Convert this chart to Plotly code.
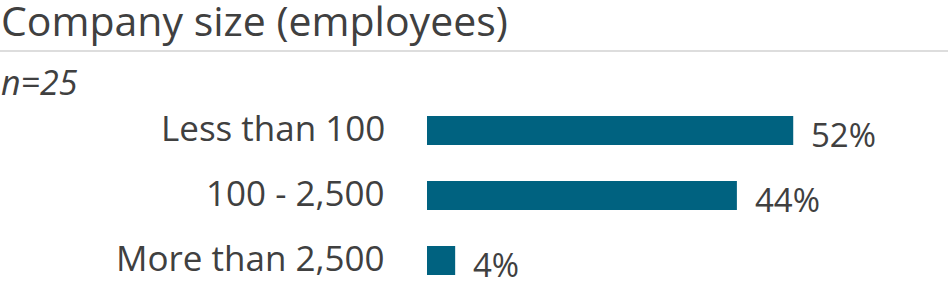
import plotly.graph_objects as go

categories = ["Less than 100", "100 - 2,500", "More than 2,500"]
values = [52, 44, 4]
value_labels = ["52%", "44%", "4%"]
title_text = "Company size (employees)"
note_text = "n=25"

BAR = "#006280"
TXT = "#404040"
FONT = "Open Sans"

fig = go.Figure()
fig.add_trace(go.Bar(
    x=values, y=categories, orientation="h",
    marker=dict(color=BAR, line=dict(width=0)),
    width=0.446, hoverinfo="skip",
))

for c, v, t in zip(categories, values, value_labels):
    fig.add_annotation(x=v, y=c, xref="x", yref="y", text=t, showarrow=False,
                       xanchor="left", yanchor="middle", xshift=16, yshift=-4,
                       font=dict(family=FONT, size=33, color=TXT))
    fig.add_annotation(x=0, y=c, xref="x", yref="y", text=c, showarrow=False,
                       xanchor="right", yanchor="middle", xshift=-40, yshift=3,
                       font=dict(family=FONT, size=35, color=TXT))

fig.add_annotation(x=0, y=1, xref="paper", yref="paper", text=title_text,
                   showarrow=False, xanchor="left", yanchor="middle", xshift=-428, yshift=78,
                   font=dict(family=FONT, size=41, color=TXT))
fig.add_annotation(x=0, y=1, xref="paper", yref="paper", text="<i>" + note_text + "</i>",
                   showarrow=False, xanchor="left", yanchor="middle", xshift=-428, yshift=16,
                   font=dict(family=FONT, size=34, color=TXT))
fig.add_shape(type="line", xref="paper", yref="paper", x0=-427/493, x1=(948-427)/493,
              y0=1 + 47/189, y1=1 + 47/189, line=dict(color="#DDDDDD", width=2))

fig.update_layout(
    width=949, height=287,
    margin=dict(l=427, r=29, t=98, b=0),
    paper_bgcolor="white", plot_bgcolor="white",
    showlegend=False,
    font=dict(family=FONT, color=TXT),
    xaxis=dict(range=[0, 70], visible=False, fixedrange=True),
    yaxis=dict(range=[2.408, -0.5], visible=False, fixedrange=True),
    bargap=0.554,
)

fig.write_html("out.html", config={"displayModeBar": False})
